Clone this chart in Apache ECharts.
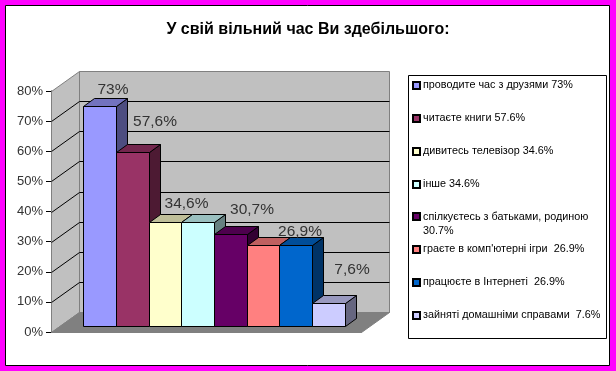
<!DOCTYPE html>
<html><head><meta charset="utf-8">
<style>html,body{margin:0;padding:0;background:#f0f}#c{width:616px;height:371px}</style>
<script src="https://cdn.jsdelivr.net/npm/echarts@6/dist/echarts.min.js"></script>
</head><body><div id="c"></div>
<script>
const titleText = 'У свій вільний час Ви здебільшого:';
const seriesNames = [
  'проводите час з друзями 73%',
  'читаєте книги 57.6%',
  'дивитесь телевізор 34.6%',
  'інше 34.6%',
  'спілкуєтесь з батьками, родиною\n30.7%',
  'граєте в комп\'ютерні ігри  26.9%',
  'працюєте в Інтернеті  26.9%',
  'зайняті домашніми справами  7.6%'
];
const seriesValues = [73, 57.6, 34.6, 34.6, 30.7, 26.9, 26.9, 7.6];
const valueLabels = ['73%', '57,6%', '34,6%', '', '30,7%', '', '26,9%', '7,6%'];
const seriesColors = ['#9999FF', '#993366', '#FFFFCC', '#CCFFFF', '#660066', '#FF8080', '#0066CC', '#CCCCFF'];
const gridTicks = [10, 20, 30, 40, 50, 60, 70];
const labelShiftX = [13, 22, 21, 0, 21, 0, 4, 23];
const labelShiftY = [-17, -31, -19, 0, -25, 0, -14, -34];

const WALL_DX = 28, WALL_DY = -20, BAR_DX = 8, BAR_DY = -6, SIDE_DX = 11, SIDE_DY = -8, CLUSTER = 0.845;
const font = 'Liberation Sans';
const snap = v => Math.round(v) + 0.5;
function shade(hex, f) {
  const n = parseInt(hex.slice(1), 16);
  const c = s => Math.round(((n >> s) & 255) * f);
  return 'rgb(' + c(16) + ',' + c(8) + ',' + c(0) + ')';
}
const poly = (points, fill, stroke) => ({
  type: 'polygon', shape: { points },
  style: { fill, stroke: stroke || '#000', lineWidth: 1 }
});
const seg = (a, b, stroke) => ({
  type: 'line', shape: { x1: a[0], y1: a[1], x2: b[0], y2: b[1] },
  style: { stroke, lineWidth: 1 }
});

function renderWalls(params, api) {
  const origin = api.coord([0, 0]);
  const band = api.size([1, 0])[0];
  const left = snap(origin[0] - band / 2), right = snap(origin[0] + band / 2);
  const bottom = snap(origin[1]), top = snap(api.coord([0, 80])[1]);
  const children = [];
  const bx = WALL_DX, by = WALL_DY;
  children.push(poly([[left + bx, top + by], [right + bx, top + by], [right + bx, bottom + by], [left + bx, bottom + by]], '#C0C0C0', '#808080'));
  children.push(poly([[left, top], [left + bx, top + by], [left + bx, bottom + by], [left, bottom]], '#C0C0C0', '#808080'));
  children.push(poly([[left, bottom], [left + bx, bottom + by], [right + bx, bottom + by], [right, bottom]], '#808080', '#808080'));
  gridTicks.forEach(t => {
    const y = snap(api.coord([0, t])[1]);
    children.push(seg([left, y], [left + bx, y + by], '#000'));
    children.push(seg([left + bx, y + by], [right + bx, y + by], '#000'));
  });
  return { type: 'group', children };
}

function makeBarRenderer(i) {
  return function (params, api) {
    const v = api.value(1);
    const center = api.coord([0, 0])[0];
    const band = api.size([1, 0])[0];
    const slot = band * CLUSTER / seriesValues.length;
    const x0 = snap(center - slot * seriesValues.length / 2 + i * slot + BAR_DX);
    const x1 = snap(center - slot * seriesValues.length / 2 + (i + 1) * slot + BAR_DX);
    const yb = snap(api.coord([0, 0])[1] + BAR_DY);
    const yt = snap(api.coord([0, v])[1] + BAR_DY);
    const color = seriesColors[i];
    const children = [
      poly([[x1, yt], [x1 + SIDE_DX, yt + SIDE_DY], [x1 + SIDE_DX, yb + SIDE_DY], [x1, yb]], shade(color, 0.5)),
      poly([[x0, yt], [x0 + SIDE_DX, yt + SIDE_DY], [x1 + SIDE_DX, yt + SIDE_DY], [x1, yt]], shade(color, 0.75)),
      poly([[x0, yt], [x1, yt], [x1, yb], [x0, yb]], color)
    ];
    if (valueLabels[i]) {
      children.push({
        type: 'text', z2: 50,
        style: {
          x: (x0 + x1) / 2 + labelShiftX[i], y: yt + labelShiftY[i],
          text: valueLabels[i], fill: '#333', font: '15.5px "' + font + '"',
          align: 'center', verticalAlign: 'middle'
        }
      });
    }
    return { type: 'group', children };
  };
}

const legendBase = {
  orient: 'vertical', left: 412, itemWidth: 7, itemHeight: 7, itemGap: 22, icon: 'rect',
  selectedMode: false, padding: 0,
  textStyle: { fontFamily: font, fontSize: 10.8, color: '#000', padding: [0, 0, 0, -2] }
};

const series = [{
  type: 'custom', name: 'walls', silent: true, z: 1, clip: false,
  renderItem: renderWalls, data: [[0, 0]], encode: { x: 0, y: 1 }
}].concat(seriesNames.map((name, i) => ({
  type: 'custom', name, z: 2 + i, clip: false,
  itemStyle: { color: seriesColors[i], borderColor: '#000', borderWidth: 1 },
  renderItem: makeBarRenderer(i),
  data: [[0, seriesValues[i]]], encode: { x: 0, y: 1 }
})));

const chart = echarts.init(document.getElementById('c'), null, { renderer: 'canvas' });
chart.setOption({
  animation: false,
  backgroundColor: '#FF00FF',
  title: {
    text: titleText, left: 'center', top: 17,
    textStyle: { fontFamily: font, fontSize: 16, fontWeight: 'bold', color: '#000' }
  },
  graphic: [
    { type: 'rect', z: -1, silent: true, shape: { x: 5.5, y: 5.5, width: 604, height: 360 }, style: { fill: '#fff', stroke: '#000', lineWidth: 1 } },
    { type: 'rect', z: -1, silent: true, shape: { x: 408.5, y: 75.5, width: 198, height: 263 }, style: { fill: '#fff', stroke: '#000', lineWidth: 1 } }
  ],
  legend: [
    Object.assign({}, legendBase, { top: 80, data: seriesNames.slice(0, 4) }),
    Object.assign({}, legendBase, {
      top: 210, itemHeight: 22,
      textStyle: Object.assign({}, legendBase.textStyle, { lineHeight: 14 }),
      data: [{ name: seriesNames[4], icon: 'path://M0 0H7V7H0Z M0 22H0' }]
    }),
    Object.assign({}, legendBase, { top: 244, data: seriesNames.slice(5) })
  ],
  grid: { left: 51, right: 255, top: 91, bottom: 39, containLabel: false },
  xAxis: {
    type: 'category', data: [''],
    axisLine: { lineStyle: { color: '#000' } }, axisTick: { show: false }, axisLabel: { show: false }
  },
  yAxis: {
    type: 'value', min: 0, max: 80, interval: 10,
    axisLine: { show: true, lineStyle: { color: '#000' } },
    axisTick: { show: true, length: 5, lineStyle: { color: '#000' } },
    splitLine: { show: false },
    axisLabel: { formatter: '{value}%', fontFamily: font, fontSize: 13, color: '#333', margin: 8 }
  },
  series
});
</script></body></html>
